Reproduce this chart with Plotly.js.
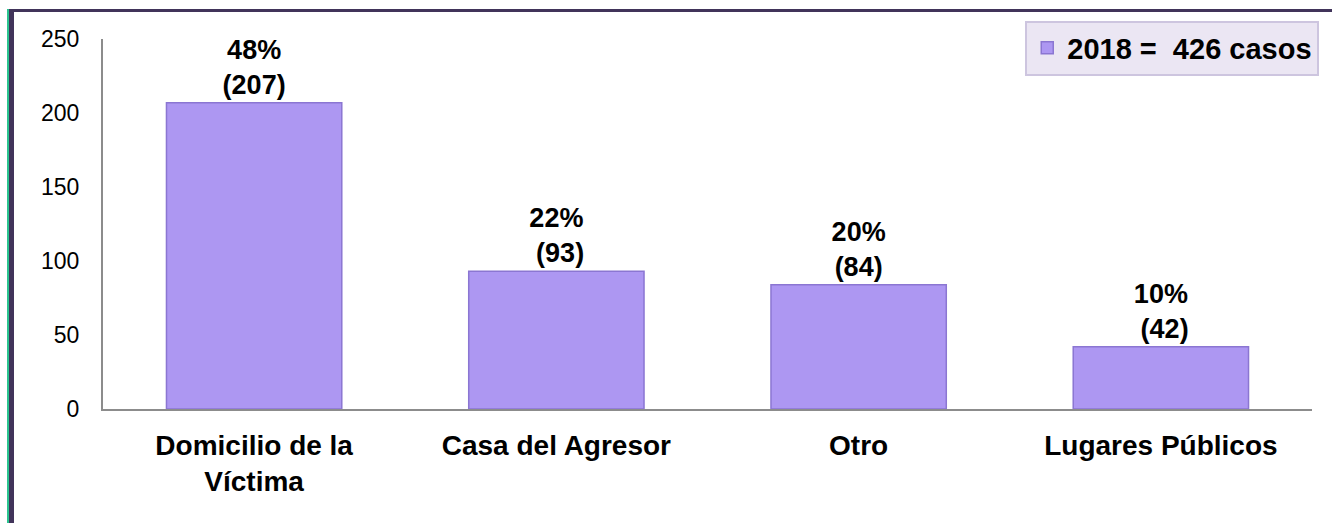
<!DOCTYPE html>
<html>
<head>
<meta charset="utf-8">
<script src="https://cdn.plot.ly/plotly-3.0.1.min.js"></script>
<style>
  html, body { margin: 0; padding: 0; background: #fff; }
  #wrap { position: relative; width: 1332px; height: 523px; overflow: hidden; }
  #chart { position: absolute; left: 0; top: 0; width: 1332px; height: 523px; }
  .edge { position: absolute; pointer-events: none; }
</style>
</head>
<body>
<div id="wrap">
  <div id="chart"></div>
  <div class="edge" style="left:7px; top:9px; width:2px; height:514px; background:#2bc48f;"></div>
  <div class="edge" style="left:9px; top:9px; width:5px; height:514px; background:#41345a;"></div>
  <div class="edge" style="left:9px; top:9px; width:1323px; height:3px; background:#41345a;"></div>
</div>
<script>
var myDiv = document.getElementById('chart');

// datos 2018
var lugares = ['Domicilio de la<br>Víctima', 'Casa del Agresor', 'Otro', 'Lugares Públicos'];
var casos = [207, 93, 84, 42];
var etiquetas = ['48%<br>(207)', '22%<br> (93)', '20%<br>(84)', '10%<br> (42)'];
var serie = '2018 =&nbsp; 426 casos';

var trace1 = {
  x: lugares,
  y: casos,
  text: etiquetas,
  name: serie,
  type: 'bar',
  textposition: 'outside',
  cliponaxis: false,
  textfont: {family: 'Liberation Sans, Arial, sans-serif', size: 27, color: '#000', weight: 'bold'},
  marker: {
    color: '#ad97f2',
    line: {color: '#8b76d2', width: 1.5}
  },
  hoverinfo: 'none'
};

var data = [trace1];

var layout = {
  width: 1332,
  height: 523,
  margin: {l: 103, r: 20, t: 39, b: 114},
  paper_bgcolor: '#fff',
  plot_bgcolor: '#fff',
  font: {family: 'Liberation Sans, Arial, sans-serif', color: '#000'},
  bargap: 0.42,
  showlegend: true,
  legend: {
    x: 1.006, y: 1.05,
    xanchor: 'right', yanchor: 'top',
    bgcolor: '#ebe6f3',
    bordercolor: '#cdc5df',
    borderwidth: 2,
    entrywidth: 300,
    font: {size: 29, color: '#000', weight: 'bold'}
  },
  xaxis: {
    showline: true,
    linecolor: '#8c8c8c',
    linewidth: 2,
    ticks: '',
    showgrid: false,
    ticklabelstandoff: 10,
    tickfont: {size: 28, weight: 'bold', color: '#000'}
  },
  yaxis: {
    range: [0, 250],
    dtick: 50,
    showline: true,
    linecolor: '#8c8c8c',
    linewidth: 2,
    ticks: '',
    showgrid: false,
    zeroline: false,
    ticklabelstandoff: 17,
    tickfont: {size: 23, color: '#000'}
  }
};

Plotly.newPlot(myDiv, data, layout, {displayModeBar: false, staticPlot: true});
</script>
</body>
</html>
